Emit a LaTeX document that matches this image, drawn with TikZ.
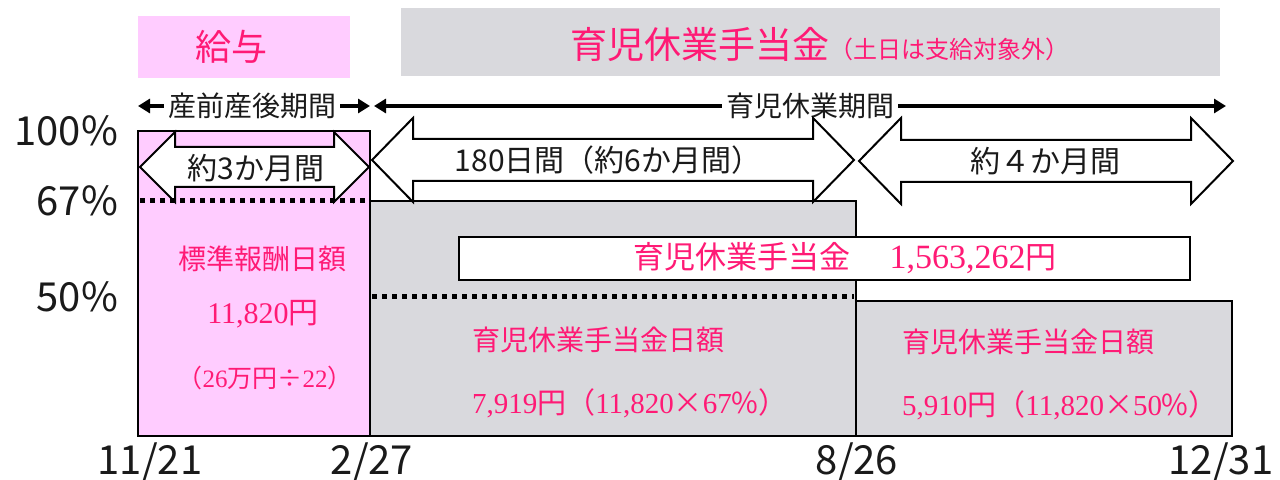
\documentclass[tikz,border=0pt]{standalone}
\usepackage{fontspec}
\setmainfont{Noto Sans CJK JP}
\newfontfamily\numfont{Liberation Serif}
\usepackage{tikz}
\usetikzlibrary{arrows.meta}
\definecolor{pinkfill}{HTML}{FFCCFF}
\definecolor{greyfill}{HTML}{D9D9DD}
\definecolor{pinktext}{HTML}{FF1A75}
\definecolor{textdark}{HTML}{1A1A1A}
\newcommand{\fsz}[1]{\fontsize{#1}{#1}\selectfont}
\newcommand{\dblarrow}[6]{%
  \draw[bigarrow] (#1,#3) -- ({#1+#6},{#3-#4}) -- ({#1+#6},{#3-#5}) -- ({#2-#6},{#3-#5})
    -- ({#2-#6},{#3-#4}) -- (#2,#3) -- ({#2-#6},{#3+#4}) -- ({#2-#6},{#3+#5})
    -- ({#1+#6},{#3+#5}) -- ({#1+#6},{#3+#4}) -- cycle;}
\tikzset{
  bigarrow/.style={draw=black, fill=white, line width=1pt, line join=miter},
  bar/.style={draw=black, line width=1pt},
  dotline/.style={line width=2.5pt, dash pattern=on 2.6pt off 2.4pt},
  toparrow/.style={line width=2pt, -{Triangle[length=6pt,width=7pt]}},
  axislbl/.style={font=\fsz{20}, text=textdark},
  spanlbl/.style={font=\fsz{15}, text=textdark, inner sep=2pt},
  paytxt/.style={font=\fsz{14}, text=pinktext},
}

\begin{document}
\begin{tikzpicture}[x=0.5pt, y=-0.5pt]
        \useasboundingbox (0,0) rectangle (1280,480);
        \fill[pinkfill] (138,16) rectangle (350,78);
        \node[font=\fsz{18}, text=pinktext] (kyuyo) at (231,47) {給与};
        \fill[greyfill] (401,8) rectangle (1220,76);
        \node[font=\fsz{18.5}, text=pinktext, anchor=west] (teate) at (563,45) {育児休業手当金\fsz{12}（土日は支給対象外）};

        \coordinate (sL) at (138,106);
        \coordinate (sR) at (370,106);
        \node[spanlbl, font=\fsz{14}] (sanzen) at (252,106) {産前産後期間};
        \draw[toparrow] (sanzen) -- (sL);
        \draw[toparrow] (sanzen) -- (sR);
        \coordinate (iL) at (374,106);
        \coordinate (iR) at (1226,106);
        \node[spanlbl, font=\fsz{14}] (ikukyu) at (810,106) {育児休業期間};
        \draw[toparrow] (ikukyu) -- (iL);
        \draw[toparrow] (ikukyu) -- (iR);

        \fill[pinkfill] (138,131) rectangle (370,436);
        \draw[bar] (138,131) rectangle (370,436);
        \fill[greyfill] (370,201) rectangle (856,436);
        \draw[bar] (370,201) rectangle (856,436);
        \fill[greyfill] (856,301) rectangle (1232,436);
        \draw[bar] (856,301) rectangle (1232,436);
        \fill[white] (459,237) rectangle (1190,280);
        \draw[bar] (459,237) rectangle (1190,280);

        \dblarrow{140}{369}{167}{35}{20}{35}
        \dblarrow{372}{854}{160}{42}{21}{41}
        \dblarrow{859}{1233}{161}{43}{21}{42}
        \draw[dotline] (140,201) -- (370,201);
        \draw[dotline] (372,297) -- (854,297);

        \node[spanlbl] (m3) at (256,168) {約3か月間};
        \node[spanlbl] (m6) at (608,160) {180日間（約6か月間）};
        \node[spanlbl] (m4) at (1045,161) {約４か月間};

        \node[axislbl, anchor=east] (p100) at (125,131) {100\%};
        \node[axislbl, anchor=east] (p67) at (125,201) {67\%};
        \node[axislbl, anchor=east] (p50) at (125,297) {50\%};

        \node[paytxt] (hoshu) at (262,259) {標準報酬日額};
        \node[paytxt, font=\fsz{15}] (hoshuval) at (263,314) {{\numfont 11,820}円};
        \node[paytxt, font=\fsz{12.5}] (hoshucalc) at (265,378) {（{\numfont 26}万円÷{\numfont 22}）};
        \node[paytxt, font=\fsz{15.5}, anchor=west] (total) at (626,258) {育児休業手当金\quad{\numfont\fsz{17} 1,563,262}円};
        \node[paytxt, anchor=west] (day67) at (465,340) {育児休業手当金日額};
        \node[paytxt, font=\fsz{14.5}, anchor=west] (day67val) at (465,403) {{\numfont 7,919}円（{\numfont 11,820}×{\numfont 67}\%）};
        \node[paytxt, anchor=west] (day50) at (895,342) {育児休業手当金日額};
        \node[paytxt, font=\fsz{14.5}, anchor=west] (day50val) at (895,405) {{\numfont 5,910}円（{\numfont 11,820}×{\numfont 50}\%）};

        \node[axislbl] (d1) at (150,462) {11/21};
        \node[axislbl] (d2) at (372,462) {2/27};
        \node[axislbl] (d3) at (857,462) {8/26};
        \node[axislbl] (d4) at (1221,462) {12/31};
      \end{tikzpicture}
\end{document}
